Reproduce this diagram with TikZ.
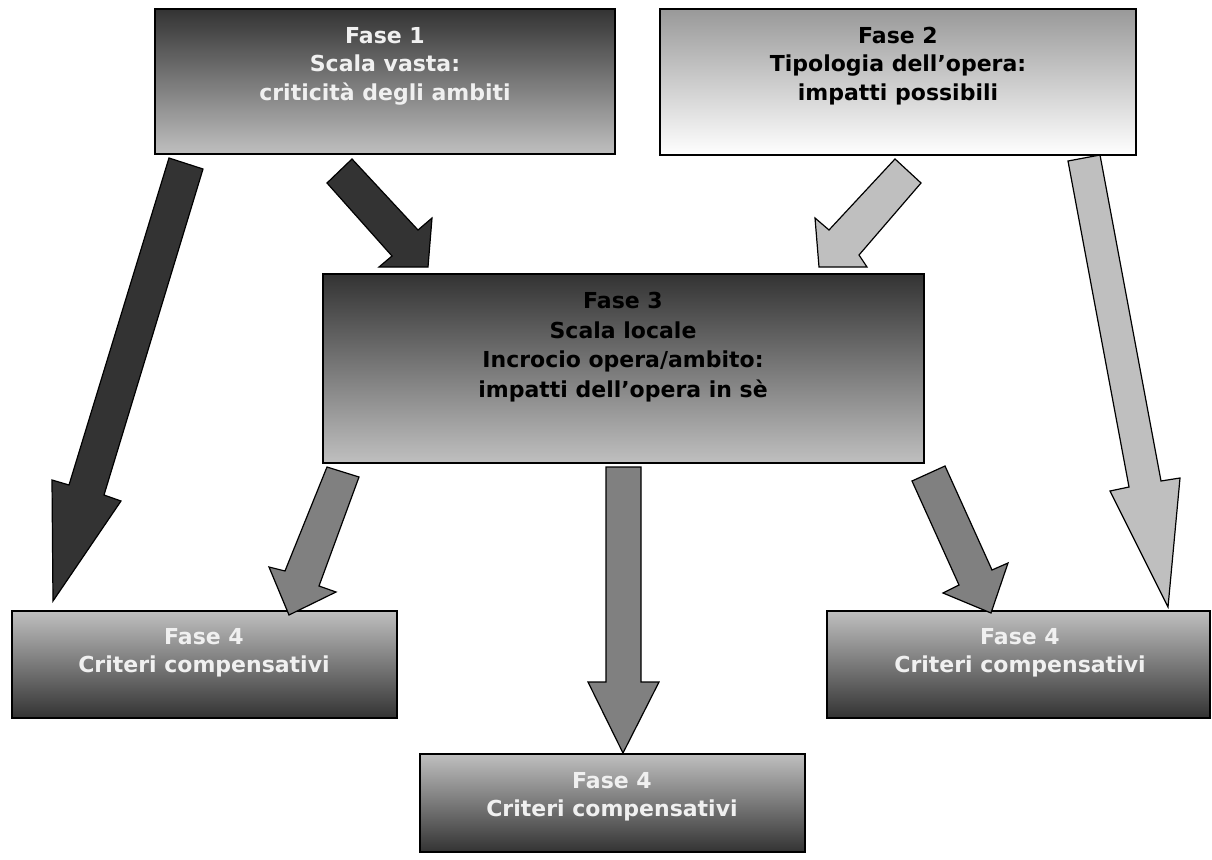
\documentclass[tikz,border=0pt]{standalone}
\usepackage{fontspec}
\setmainfont{DejaVu Sans}
\begin{document}
\begin{tikzpicture}[x=1pt,y=-1pt,
  boxline/.style={draw=black,line width=1.4pt},
  darktop/.style={boxline,top color=black!80,bottom color=black!25},
  lighttop/.style={boxline,top color=black!40,bottom color=white},
  darkbottom/.style={boxline,top color=black!25,bottom color=black!80},
  txt/.style={align=center,anchor=base,inner sep=0pt,font=\fontsize{22}{28.5}\selectfont\bfseries},
  arrowline/.style={draw=black,line width=1.2pt,line join=miter},
  arrowdark/.style={arrowline,fill=black!80},
  arrowlight/.style={arrowline,fill=black!25},
  arrowmid/.style={arrowline,fill=black!50}]
\useasboundingbox (0,0) rectangle (1212,859);

% boxes
\draw[darktop] (155,9) rectangle (615,154) coordinate (b1);
\draw[lighttop] (660,9) rectangle (1136,155) coordinate (b2);
\draw[darktop] (323,274) rectangle (924,463) coordinate (b3);
\draw[darkbottom] (12,611) rectangle (397,718) coordinate (b4l);
\draw[darkbottom] (420,754) rectangle (805,852) coordinate (b4b);
\draw[darkbottom] (827,611) rectangle (1210,718) coordinate (b4r);

% texts (anchor base = baseline of last line)
\node[txt,text=white!94!black] (t1) at (385,100) {Fase 1\\Scala vasta:\\criticità degli ambiti};
\node[txt,text=black] (t2) at (898,100) {Fase 2\\Tipologia dell’opera:\\impatti possibili};
\node[txt,text=black,font=\fontsize{22}{29.5}\selectfont\bfseries] (t3) at (623,397) {Fase 3\\Scala locale\\Incrocio opera/ambito:\\impatti dell’opera in sè};
\node[txt,text=white!94!black] (t4l) at (204,672.5) {Fase 4\\Criteri compensativi};
\node[txt,text=white!94!black] (t4b) at (612,816.5) {Fase 4\\Criteri compensativi};
\node[txt,text=white!94!black] (t4r) at (1020,672.5) {Fase 4\\Criteri compensativi};

% block arrows
\draw[arrowdark] (169,158) -- (203,169) -- (104,495) -- (121,501) -- (53,601) -- (52,480) -- (69,485) -- cycle;
\draw[arrowdark] (352,159) -- (418,230) -- (432,218) -- (428,267) -- (379,267) -- (392,256) -- (327,183) -- cycle;
\draw[arrowlight] (895,159) -- (921,183) -- (859,255) -- (867,267) -- (819,267) -- (815,218) -- (829,230) -- cycle;
\draw[arrowlight] (1068,161) -- (1100,155) -- (1161,481) -- (1180,478) -- (1168,607) -- (1110,491) -- (1129,487) -- cycle;
\draw[arrowmid] (327,467) -- (359,477) -- (319,586) -- (336,592) -- (289,615) -- (269,567) -- (285,571) -- cycle;
\draw[arrowmid] (606,467) -- (641,467) -- (641,682) -- (659,682) -- (623,753) -- (588,682) -- (606,682) -- cycle;
\draw[arrowmid] (912,481) -- (945,466) -- (992,570) -- (1008,563) -- (991,613) -- (943,593) -- (959,585) -- cycle;
\end{tikzpicture}
\end{document}
